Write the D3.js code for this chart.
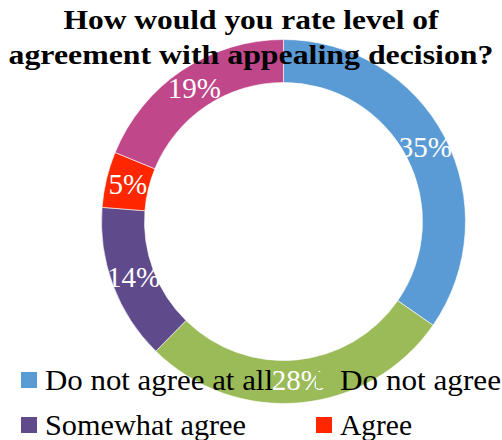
<!DOCTYPE html>
<html><head><meta charset="utf-8">
<script src="https://cdn.jsdelivr.net/npm/d3@7"></script>
<style>html,body{margin:0;padding:0;background:#fff;overflow:hidden}</style>
</head><body>
<script>
const categories = ["Do not agree at all", "Do not agree", "Somewhat agree", "Agree", "Strongly agree"];
const values = [35, 28, 14, 5, 19];
const labels = ["35%", "28%", "14%", "5%", "19%"];
const titleLines = ["How would you rate level of", "agreement with appealing decision?"];
const colors = ["#5B9BD5", "#9BBB59", "#5F4A8B", "#FF2600", "#C0478A"];

const W = 502, H = 440;
const font = '"Liberation Serif"';
const svg = d3.select("body").append("svg").attr("width", W).attr("height", H);

const cx = 283.5, cy = 221.5, rOuter = 182, rInner = 139;
const pie = d3.pie().sort(null).value(d => d)(values);
const arc = d3.arc().innerRadius(rInner).outerRadius(rOuter);
const color = d3.scaleOrdinal().domain(categories).range(colors);

const g = svg.append("g").attr("transform", `translate(${cx},${cy})`);
g.selectAll("path").data(pie).join("path")
  .attr("d", arc)
  .attr("fill", (d, i) => color(categories[i]))
  .attr("stroke", "#fff").attr("stroke-width", 0.6);

// legend (first four entries visible)
const legendPos = [[21, 372], [316, 372], [21, 417], [316, 417]];
const legendW = [228, 161, 201, 72];
const lg = svg.append("g");
categories.slice(0, 4).forEach((c, i) => {
  const [x, y] = legendPos[i];
  lg.append("rect").attr("x", x).attr("y", y).attr("width", 16).attr("height", 16).attr("fill", color(c));
  lg.append("text").attr("x", x + 24).attr("y", y + 18)
    .style("font-family", font).style("font-size", "30px").attr("fill", "#000")
    .attr("textLength", legendW[i]).attr("lengthAdjust", "spacingAndGlyphs")
    .text(c);
});

// title
const tW = [375, 485];
titleLines.forEach((t, i) => {
  svg.append("text").attr("x", W / 2).attr("y", 29 + i * 34.5)
    .attr("text-anchor", "middle").style("font-family", font)
    .style("font-weight", "bold").style("font-size", "28px").attr("fill", "#000")
    .attr("textLength", tW[i]).attr("lengthAdjust", "spacingAndGlyphs")
    .text(t);
});

// data labels
const labArc = d3.arc().innerRadius(160).outerRadius(160);
g.selectAll("text.lab").data(pie).join("text").attr("class", "lab")
  .attr("transform", d => { const [x, y] = labArc.centroid(d); return `translate(${x},${y + 9.5})`; })
  .attr("text-anchor", "middle").style("font-family", font).style("font-size", "29px")
  .attr("fill", "#fff").text((d, i) => labels[i]);
</script>
</body></html>
